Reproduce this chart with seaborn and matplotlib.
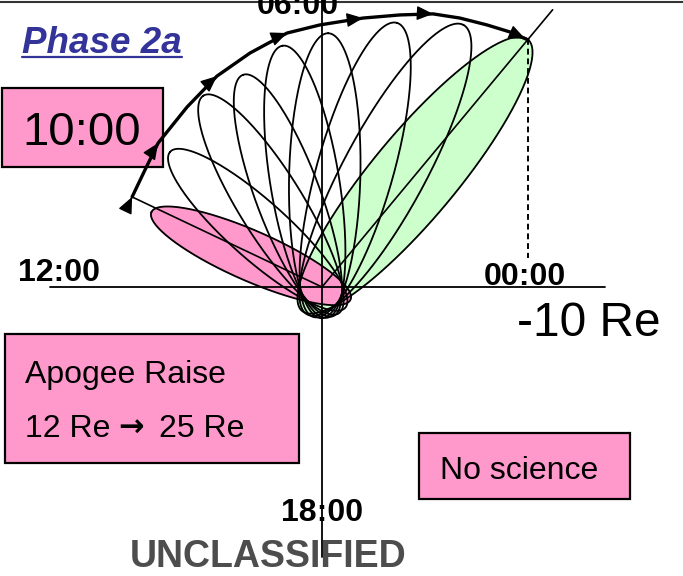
import numpy as np
import pandas as pd
import seaborn as sns
import matplotlib.pyplot as plt
from matplotlib.patches import Rectangle

# Apogee positions of the orbits during the raise (GSE X, Y in Re)
apogee_x = [8.2, 7.3, 5.7, 3.8, 1.9, -0.3, -3.6, -6.8, -9.9]
apogee_y = [3.6, 6.5, 9.2, 10.2, 11.6, 12.2, 12.7, 12.6, 11.9]
# minor / major axis ratio of each orbit sketch
orbit_ratio = [0.23, 0.25, 0.25, 0.25, 0.25, 0.25, 0.25, 0.25, 0.24]
perigee_r = 1.5

# track of apogee (thick arrowed arc)
track_x = [9.13, 8.51, 7.88, 6.49, 5.05, 3.46, 1.68, 0.10, -1.97, -3.75,
           -5.34, -6.63, -7.93, -9.04, -9.90]
track_y = [4.33, 5.63, 6.92, 8.65, 10.14, 11.25, 12.21, 12.60, 12.93, 13.08,
           13.13, 12.93, 12.60, 12.26, 11.88]
arrow_idx = [0, 2, 4, 6, 8, 10, 14]

PINK = "#FF99CC"
GREEN = "#CCFFCC"

sns.set_theme(style="white")
plt.rcParams["font.family"] = ["Liberation Sans", "DejaVu Sans"]
plt.rcParams["text.color"] = "black"

fig = plt.figure(figsize=(6.83, 5.76), dpi=100)
lay = fig.add_axes([0, 0, 1, 1], zorder=0)
lay.set_xlim(0, 683)
lay.set_ylim(576, 0)
lay.axis("off")

ax = fig.add_axes([0, 0, 1, 1], zorder=1)
ax.set_xlim(322 / 20.8, (322 - 683) / 20.8)
ax.set_ylim((287 - 576) / 20.8, 287 / 20.8)
ax.axis("off")
ax.patch.set_visible(False)

# build the orbit outlines
rows = []
t = np.linspace(0, 2 * np.pi, 300)
for k, (xa, ya, q) in enumerate(zip(apogee_x, apogee_y, orbit_ratio)):
    r = np.hypot(xa, ya)
    u = np.array([xa, ya]) / r
    v = np.array([-u[1], u[0]])
    a = (r + perigee_r) / 2
    b = q * a
    c = u * (r - perigee_r) / 2
    px = c[0] + a * np.cos(t) * u[0] + b * np.sin(t) * v[0]
    py = c[1] + a * np.cos(t) * u[1] + b * np.sin(t) * v[1]
    for i in range(len(t)):
        rows.append({"orbit": k, "x": px[i], "y": py[i], "step": i})
orbits = pd.DataFrame(rows)

last = orbits[orbits.orbit == len(apogee_x) - 1]
first = orbits[orbits.orbit == 0]
ax.fill(last.x, last.y, color=GREEN, zorder=1)
ax.fill(first.x, first.y, color=PINK, zorder=2)

sns.lineplot(data=orbits, x="x", y="y", units="orbit", estimator=None,
             sort=False, color="black", lw=1.3, ax=ax, zorder=3)
ax.axis("off")

# axes through Earth
ax.plot([13.08, -13.6], [0, 0], color="black", lw=1.3, zorder=4)
ax.plot([0, 0], [13.8, -13.0], color="black", lw=1.3, zorder=4)

# lines from Earth to first / last apogee
ax.plot([0, track_x[0]], [0, track_y[0]], color="black", lw=1.2, zorder=4)
ax.plot([0, apogee_x[-1] * 1.12], [0, apogee_y[-1] * 1.12], color="black",
        lw=1.2, zorder=4)
ax.plot([apogee_x[-1], apogee_x[-1]], [apogee_y[-1], 1.4], color="black",
        lw=1.4, ls=(0, (3, 2)), zorder=4)

# apogee track
ax.plot(track_x, track_y, color="black", lw=2.4, zorder=5,
        solid_capstyle="round")
for i in arrow_idx:
    j0 = max(i - 1, 0)
    j1 = min(i + 1, len(track_x) - 1)
    d = np.array([track_x[j1] - track_x[j0], track_y[j1] - track_y[j0]])
    d = d / np.hypot(*d)
    tip = np.array([track_x[i], track_y[i]])
    if i == len(track_x) - 1:
        tip = tip - d * 0.15
    ax.annotate("", xy=tip, xytext=tip - d * 0.5,
                arrowprops=dict(arrowstyle="-|>,head_length=0.5,head_width=0.22",
                                mutation_scale=20, color="black", lw=1,
                                shrinkA=0, shrinkB=0), zorder=6)

# labels and boxes
lay.plot([0, 683], [2, 2], color="#333333", lw=1.5)

ph = lay.text(22, 53, "Phase 2a", fontsize=26.5, fontweight="bold",
              fontstyle="italic", color="#333399", va="baseline")
fig.canvas.draw()
bb = ph.get_window_extent().transformed(lay.transData.inverted())
lay.plot([bb.x0, bb.x1], [57, 57], color="#333399", lw=1.6)

lay.add_patch(Rectangle((2, 88), 161, 79, facecolor=PINK, edgecolor="black",
                        lw=1.6))
lay.text(82, 128, "10:00", fontsize=34, ha="center", va="center_baseline")

for label, x, y, ha in [("12:00", 18, 281, "left"), ("06:00", 298, 14, "center"),
                        ("00:00", 484, 285, "left"), ("18:00", 322, 521, "center")]:
    lay.text(x, y, label, fontsize=23, fontweight="bold", ha=ha, va="baseline")

lay.text(517, 336, "-10 Re", fontsize=34.5, va="baseline")

lay.add_patch(Rectangle((5, 334), 294, 129, facecolor=PINK, edgecolor="black",
                        lw=1.6))
lay.text(25, 383, "Apogee Raise", fontsize=23, va="baseline")
lay.text(25, 437, "12 Re", fontsize=23, va="baseline")
lay.text(118, 437, "\u2192", fontsize=22, va="baseline", family="DejaVu Sans",
         fontweight="bold")
lay.text(159, 437, "25 Re", fontsize=23, va="baseline")

lay.add_patch(Rectangle((419, 433), 211, 66, facecolor=PINK, edgecolor="black",
                        lw=1.6))
lay.text(440, 479, "No science", fontsize=23, va="baseline")

lay.text(268, 567, "UNCLASSIFIED", fontsize=27, fontweight="bold",
         color="#4D4D4D", ha="center", va="baseline")

fig.savefig("out.png", dpi=100)
